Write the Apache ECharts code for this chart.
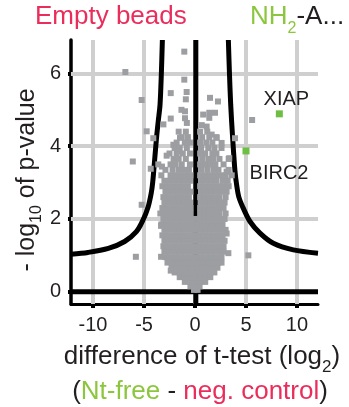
<!DOCTYPE html>
<html>
<head>
<meta charset="utf-8">
<script src="https://cdn.jsdelivr.net/npm/echarts@6/dist/echarts.min.js"></script>
<style>
  html, body { margin: 0; padding: 0; background: #fff; }
  #chart { width: 349px; height: 407px; }
</style>
</head>
<body>
<div id="chart"></div>
<script>
// tick values
const xTicks = [-10, -5, 0, 5, 10];
const yTicks = [0, 2, 4, 6];

// threshold curves
const leftCurve = [[-12.16, 1.03], [-10.5, 1.08], [-8.5, 1.19], [-6.9, 1.38], [-5.75, 1.65], [-5.1, 1.97],
  [-4.6, 2.33], [-4.3, 2.7], [-4.15, 3.0], [-3.92, 3.75], [-3.75, 4.3], [-3.6, 4.7], [-3.43, 5.14],
  [-3.3, 6.0], [-3.2, 6.92]];
const rightCurve = [[3.27, 6.92], [3.37, 6.06], [3.5, 5.14], [3.69, 4.23], [3.92, 3.31], [4.1, 2.9],
  [4.3, 2.6], [4.74, 2.29], [5.39, 1.93], [6.37, 1.61], [7.68, 1.33], [9.64, 1.15], [12.06, 1.06]];
const centerLine = [[0.08, -0.34], [0.08, 6.92]];
const zeroLine = [[-12.16, 0], [12.06, 0]];

// dense cloud of proteins, one row per -log10 p level
const cloudRows = [
  [0.05, [-0.1, 0.25]],
  [0.15, [-0.45, 0.0, 0.45]],
  [0.27, [-1.0, -0.5, 0.0, 0.5, 1.0]],
  [0.4, [-1.5, -1.0, -0.5, 0.0, 0.5, 1.0, 1.5]],
  [0.53, [-2.0, -1.5, -1.0, -0.5, 0.0, 0.5, 1.0, 1.5, 1.9]],
  [0.66, [-2.3, -1.8, -1.3, -0.8, -0.3, 0.2, 0.7, 1.2, 1.7, 2.2]],
  [0.8, [-2.7, -2.2, -1.7, -1.2, -0.7, -0.2, 0.3, 0.8, 1.3, 1.8, 2.3, 2.6]],
  [0.95, [-2.9, -2.4, -1.9, -1.4, -0.9, -0.4, 0.1, 0.6, 1.1, 1.6, 2.1, 2.6]],
  [1.1, [-3.0, -2.5, -2.0, -1.5, -1.0, -0.5, 0.0, 0.5, 1.0, 1.5, 2.0, 2.5, 2.8]],
  [1.25, [-3.1, -2.7, -2.2, -1.7, -1.2, -0.7, -0.2, 0.3, 0.8, 1.3, 1.8, 2.3, 2.8]],
  [1.4, [-3.0, -2.5, -2.0, -1.5, -1.0, -0.5, 0.0, 0.5, 1.0, 1.5, 2.0, 2.5, 2.9]],
  [1.55, [-3.2, -2.7, -2.2, -1.7, -1.2, -0.7, -0.2, 0.3, 0.8, 1.3, 1.8, 2.3, 2.7]],
  [1.7, [-3.0, -2.5, -2.0, -1.5, -1.0, -0.5, 0.0, 0.5, 1.0, 1.5, 2.0, 2.5, 3.0]],
  [1.85, [-3.3, -2.8, -2.3, -1.8, -1.3, -0.8, -0.3, 0.2, 0.7, 1.2, 1.7, 2.2, 2.7]],
  [2.0, [-3.1, -2.6, -2.1, -1.6, -1.1, -0.6, -0.1, 0.4, 0.9, 1.4, 1.9, 2.4, 2.9]],
  [2.15, [-3.4, -2.9, -2.4, -1.9, -1.4, -0.9, -0.45, 0.5, 0.9, 1.4, 1.9, 2.4, 3.0]],
  [2.3, [-3.2, -2.7, -2.2, -1.7, -1.2, -0.8, -0.45, 0.5, 0.9, 1.4, 1.9, 2.4, 2.8]],
  [2.45, [-3.0, -2.5, -2.0, -1.5, -1.0, -0.5, 0.55, 1.0, 1.5, 2.0, 2.5, 2.9]],
  [2.6, [-3.1, -2.6, -2.1, -1.6, -1.1, -0.6, 0.5, 0.9, 1.4, 1.9, 2.4, 3.0]],
  [2.75, [-2.9, -2.4, -1.9, -1.4, -0.9, -0.45, 0.6, 1.1, 1.6, 2.1, 2.6, 3.1]],
  [2.9, [-3.2, -2.7, -2.2, -1.7, -1.2, -0.7, 0.5, 0.9, 1.4, 1.9, 2.4, 2.9, 3.3]],
  [3.05, [-3.0, -2.5, -2.0, -1.5, -1.0, -0.5, 0.6, 1.1, 1.6, 2.1, 2.7, 3.2]],
  [3.2, [-3.3, -2.4, -1.9, -1.4, -0.9, -0.45, 0.5, 1.0, 1.5, 2.0, 2.5, 3.0, 3.6]],
  [3.35, [-2.9, -2.2, -1.6, -1.1, -0.6, 0.6, 1.2, 1.8, 2.3, 3.3]],
  [3.5, [-3.6, -2.4, -1.9, -1.3, -0.5, 0.5, 1.0, 1.5, 2.0, 2.8]],
  [3.65, [-2.1, -1.6, -0.9, 0.7, 1.3, 1.8, 2.4, 3.3]],
  [3.8, [-2.5, -1.8, -1.2, -0.5, 0.5, 1.0, 1.7, 2.1]],
  [3.95, [-2.0, -1.5, -0.8, 0.6, 1.3, 1.9, 2.6]],
  [4.1, [-1.8, -1.0, -0.5, 0.5, 1.1, 1.7]],
  [4.25, [-1.3, -0.7, 0.7, 1.4, 2.1]],
  [4.4, [-1.6, -0.9, 0.5, 1.2]]
];

// scattered proteins outside the dense cloud
const grayOutliers = [
  [-1.05, 6.6], [-6.83, 6.04], [-1.05, 5.83], [-2.38, 5.46], [-0.82, 5.49], [-5.23, 5.27], [-0.9, 5.29],
  [1.47, 5.33], [2.25, 5.23], [-1.33, 5.0], [-0.98, 4.96], [0.8, 4.87], [1.4, 4.92], [1.4, 4.78],
  [1.96, 4.92], [-2.38, 4.76], [-0.98, 4.77], [-0.8, 4.64], [5.6, 4.72], [1.14, 4.54], [-4.74, 4.41],
  [-4.09, 4.22], [-6.1, 3.58], [-4.34, 3.38], [-3.24, 3.44], [-2.78, 3.74], [3.92, 4.22], [3.36, 3.67],
  [3.1, 3.3], [-5.23, 2.39], [2.52, 2.43], [-5.8, 0.96], [5.23, 1.0], [3.27, 1.06], [3.1, 1.6],
  [-2.38, 0.58], [-3.33, 0.96], [-3.33, 1.81], [-3.1, 4.6], [-1.47, 4.23], [-2.12, 4.04], [-1.63, 3.86],
  [1.63, 4.32], [2.12, 4.23], [2.61, 4.09], [0.66, 4.58]
];

// enriched hits
const hitNames = ['XIAP', 'BIRC2'];
const hitX = [8.27, 5.0];
const hitY = [4.89, 3.87];

const font = "'Liberation Sans', Arial, sans-serif";
const ink = '#231f20';
const red = '#ea2d5b';
const green = '#8cc63f';
const labelOffset = { XIAP: [7, -14], BIRC2: [33, 23] };

const cloud = [];
cloudRows.forEach(([y, xs]) => xs.forEach(x => cloud.push([x, y])));
const grayPoints = cloud.concat(grayOutliers);

function blackLine(data, smooth) {
  return {
    type: 'line', data: data, symbol: 'none', smooth: smooth, silent: true, z: 2,
    lineStyle: { color: '#000', width: 5 }
  };
}

const chart = echarts.init(document.getElementById('chart'));

chart.setOption({
  animation: false,
  grid: { left: 71, right: 31, top: 40, bottom: 103 },
  xAxis: {
    type: 'value', min: -12.16, max: 12.06,
    axisLine: { onZero: false, lineStyle: { color: '#000', width: 3 } },
    axisTick: { customValues: xTicks, length: 4, lineStyle: { color: '#000', width: 4 } },
    axisLabel: { customValues: xTicks, fontSize: 20, color: ink, fontFamily: font, margin: 11 },
    splitLine: { show: false }
  },
  yAxis: {
    type: 'value', min: -0.338, max: 6.92,
    axisLine: { onZero: false, lineStyle: { color: '#000', width: 3.5 } },
    axisTick: { customValues: yTicks, length: 3, lineStyle: { color: '#000', width: 4 } },
    axisLabel: { customValues: yTicks, fontSize: 20, color: ink, fontFamily: font, margin: 10 },
    splitLine: { show: false }
  },
  series: [
    {
      type: 'scatter', data: [], z: 1, silent: true,
      markLine: {
        z: 1, silent: true, symbol: ['none', 'none'], label: { show: false },
        lineStyle: { color: '#cfcfcf', width: 4, type: 'solid', opacity: 1 },
        data: xTicks.map(v => ({ xAxis: v })).concat(yTicks.map(v => ({ yAxis: v })))
      }
    },
    blackLine(leftCurve, 0.3),
    blackLine(rightCurve, 0.3),
    blackLine(centerLine, false),
    blackLine(zeroLine, false),
    {
      type: 'scatter', data: grayPoints, symbol: 'rect', symbolSize: 6, z: 3, silent: true,
      itemStyle: { color: '#9c9ea1', opacity: 1 }
    },
    {
      type: 'scatter', symbol: 'rect', symbolSize: 7, z: 4, silent: true,
      itemStyle: { color: '#6fbe44', opacity: 1 },
      data: hitNames.map((n, i) => ({
        name: n, value: [hitX[i], hitY[i]],
        label: {
          show: true, position: 'inside', offset: labelOffset[n], formatter: n,
          fontSize: 20, color: ink, fontFamily: font
        }
      }))
    }
  ],
  graphic: [
    {
      type: 'text', silent: true,
      style: { x: 35, y: 17, text: 'Empty beads', fill: red, font: '26px ' + font, verticalAlign: 'middle' }
    },
    {
      type: 'text', silent: true,
      style: {
        x: 250, y: 17, verticalAlign: 'middle',
        text: '{g|NH}{s|2}{k|-A...}',
        rich: {
          g: { fill: green, fontSize: 26, fontFamily: font, lineHeight: 40 },
          s: { fill: green, fontSize: 16, fontFamily: font, lineHeight: 16, verticalAlign: 'bottom' },
          k: { fill: ink, fontSize: 26, fontFamily: font, lineHeight: 40 }
        }
      }
    },
    {
      type: 'text', silent: true, x: 27, y: 180, rotation: Math.PI / 2,
      style: {
        x: 0, y: 0, align: 'center', verticalAlign: 'middle',
        text: '{m|- log}{s|10}{m| of p-value}',
        rich: {
          m: { fill: ink, fontSize: 25, fontFamily: font, lineHeight: 36 },
          s: { fill: ink, fontSize: 16, fontFamily: font, lineHeight: 16, verticalAlign: 'bottom' }
        }
      }
    },
    {
      type: 'text', silent: true,
      style: {
        x: 202, y: 357, align: 'center', verticalAlign: 'middle',
        text: '{m|difference of t-test (log}{s|2}{m|)}',
        rich: {
          m: { fill: ink, fontSize: 26, fontFamily: font, lineHeight: 37 },
          s: { fill: ink, fontSize: 17, fontFamily: font, lineHeight: 17, verticalAlign: 'bottom' }
        }
      }
    },
    {
      type: 'text', silent: true,
      style: {
        x: 200, y: 392, align: 'center', verticalAlign: 'middle',
        text: '{k|(}{g|Nt-free}{k| - }{r|neg. control}{k|)}',
        rich: {
          k: { fill: ink, fontSize: 26, fontFamily: font },
          g: { fill: green, fontSize: 26, fontFamily: font },
          r: { fill: red, fontSize: 26, fontFamily: font }
        }
      }
    }
  ]
});
</script>
</body>
</html>
